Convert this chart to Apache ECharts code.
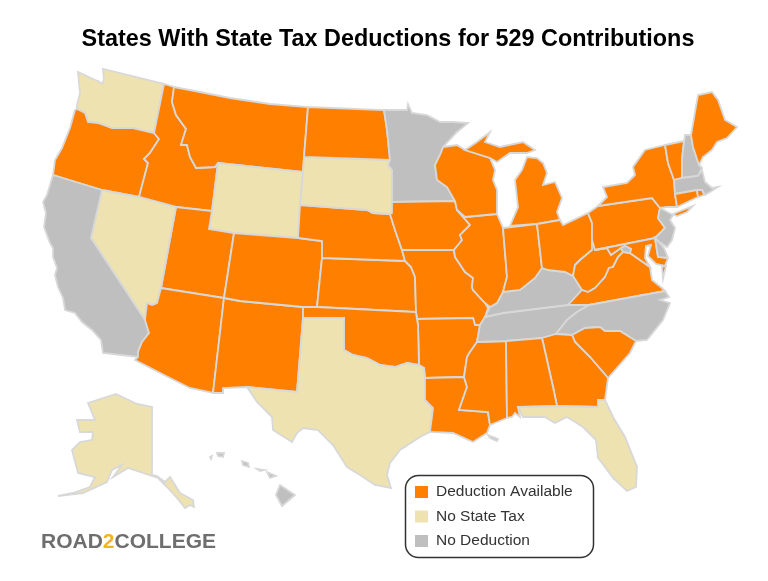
<!DOCTYPE html>
<html>
<head>
<meta charset="utf-8">
<title>529 deductions</title>
<script src="https://cdn.jsdelivr.net/npm/echarts@6/dist/echarts.min.js"></script>
<style>
  html, body { margin: 0; padding: 0; background: #fff; }
  #chart { width: 768px; height: 581px; }
</style>
</head>
<body>
<div id="chart"></div>
<script>
const chartTitle = 'States With State Tax Deductions for 529 Contributions';
const legendLabels = ['Deduction Available', 'No State Tax', 'No Deduction'];
const deductionStates = ['OR', 'ID', 'MT', 'ND', 'UT', 'CO', 'AZ', 'NM', 'NE', 'KS', 'OK', 'IA', 'MO', 'AR', 'LA',
  'WI', 'MI', 'IL', 'IN', 'OH', 'WV', 'VA', 'MD', 'PA', 'NY', 'VT', 'ME', 'CT', 'RI', 'MS', 'AL', 'GA', 'SC'];
const noTaxStates = ['WA', 'NV', 'WY', 'SD', 'TX', 'FL', 'AK'];
const noDeductionStates = ['CA', 'MN', 'KY', 'TN', 'NC', 'NJ', 'DE', 'DC', 'NH', 'MA', 'HI', 'Chandeleur'];

// 底图：没有现成的美国地图可用，轮廓按参考图描出来（x 向右，y 向下）
const stateOutlines = {
  WA: [[[78,72],[80,93],[77,105],[77,109],[85,113],[88,122],[98,123],[112,128],[133,128],[154,133],[164,84],[103,69],[104,80],[102,84],[98,81],[93,79]]],
  OR: [[[77,109],[85,113],[88,122],[98,123],[112,128],[133,128],[154,133],[159,139],[150,153],[144,159],[148,163],[139,197],[102,190],[53,175],[55,160],[62,148],[70,128],[75,110]]],
  ID: [[[164,84],[174,87],[172,102],[176,115],[186,129],[181,145],[187,145],[190,157],[196,168],[215,167],[218,163],[212,211],[176,207],[139,197],[148,163],[144,159],[150,153],[159,139],[154,133]]],
  MT: [[[174,87],[200,92],[230,98],[270,104],[308,107],[304,157],[303,172],[218,163],[215,167],[196,168],[190,157],[187,145],[181,145],[186,129],[176,115],[172,102]]],
  WY: [[[218,163],[303,172],[300,205],[298,238],[234,233],[209,229],[212,211]]],
  UT: [[[176,207],[212,211],[209,229],[234,233],[224,298],[161,288]]],
  NV: [[[102,190],[139,197],[176,207],[161,288],[157,303],[152,305],[147,303],[145,320],[91,238]]],
  CA: [[[53,175],[102,190],[91,238],[145,320],[149,333],[142,342],[138,352],[138,357],[103,353],[101,340],[92,330],[82,322],[75,313],[65,310],[63,298],[58,287],[55,275],[57,268],[53,257],[53,248],[50,243],[44,227],[46,213],[43,202],[47,195]]],
  AZ: [[[145,320],[147,303],[152,305],[157,303],[161,288],[224,298],[213,393],[190,388],[170,378],[135,360],[138,357],[138,352],[142,342],[149,333]]],
  NM: [[[224,298],[240,301],[303,307],[303,318],[297,392],[247,387],[223,388],[223,393],[213,393]]],
  CO: [[[234,233],[298,238],[322,241],[322,258],[317,307],[303,307],[240,301],[224,298]]],
  KS: [[[322,258],[405,261],[411,267],[415,277],[416,312],[317,307]]],
  NE: [[[300,205],[367,210],[373,213],[390,214],[395,230],[402,250],[405,261],[322,258],[322,241],[298,238]]],
  SD: [[[304,157],[390,160],[388,165],[392,170],[392,202],[392,213],[390,214],[373,213],[367,210],[300,205],[303,172]]],
  ND: [[[308,107],[384,110],[387,130],[390,160],[304,157]]],
  MN: [[[384,110],[407,110],[408,104],[412,113],[427,115],[440,122],[453,122],[468,123],[457,132],[443,147],[442,150],[440,155],[435,165],[437,180],[447,187],[455,201],[392,202],[392,170],[388,165],[390,160],[387,130]]],
  IA: [[[392,202],[455,201],[457,210],[470,225],[460,235],[462,240],[454,250],[402,250],[395,230],[390,214],[392,213]]],
  MO: [[[402,250],[454,250],[455,257],[465,272],[473,278],[472,287],[473,290],[485,303],[488,308],[485,317],[480,325],[475,325],[473,318],[417,319],[416,312],[415,277],[411,267],[405,261]]],
  AR: [[[417,319],[473,318],[475,325],[480,325],[477,342],[470,352],[467,357],[464,377],[425,378],[424,368],[419,365],[418,325]]],
  OK: [[[303,307],[317,307],[416,312],[417,319],[418,325],[419,365],[407,363],[395,367],[380,365],[367,358],[353,355],[344,350],[344,318],[303,318]]],
  TX: [[[303,318],[344,318],[344,350],[353,355],[367,358],[380,365],[395,367],[407,363],[419,365],[424,368],[425,378],[425,400],[433,408],[430,432],[420,437],[400,450],[390,463],[387,475],[391,488],[375,485],[360,475],[347,467],[333,445],[318,430],[303,428],[297,433],[292,442],[273,430],[272,417],[257,402],[247,387],[297,392]]],
  LA: [[[425,378],[464,377],[467,387],[459,410],[488,412],[490,425],[487,433],[473,442],[453,433],[430,432],[433,408],[425,400]]],
  Chandeleur: [[[488,435],[498,439],[497,441],[490,438]]],
  MS: [[[477,342],[506,341],[507,418],[490,425],[488,412],[459,410],[467,387],[464,377],[467,357],[470,352]]],
  TN: [[[485,317],[503,313],[568,305],[589,305],[577,312],[567,320],[556,334],[542,338],[506,341],[477,342],[480,325]]],
  KY: [[[485,317],[490,307],[497,303],[503,292],[520,290],[535,278],[542,268],[548,270],[565,272],[573,276],[582,290],[568,305],[503,313]]],
  IL: [[[465,217],[497,214],[503,228],[507,277],[503,292],[497,303],[490,307],[485,303],[473,290],[472,287],[473,278],[465,272],[455,257],[454,250],[462,240],[460,235],[470,225],[457,210]]],
  WI: [[[443,147],[457,145],[465,150],[490,158],[495,170],[493,180],[497,190],[497,214],[465,217],[457,210],[455,201],[447,187],[437,180],[435,165],[440,155],[442,150]]],
  MI: [[[465,150],[477,142],[490,132],[485,142],[500,147],[523,142],[535,150],[527,153],[510,153],[497,162],[490,158]],
       [[510,226],[518,207],[515,180],[522,170],[527,157],[537,158],[543,163],[547,173],[543,185],[555,182],[562,198],[557,212],[560,220],[537,224]]],
  IN: [[[503,228],[537,224],[542,268],[535,278],[520,290],[503,292],[507,277]]],
  OH: [[[537,224],[560,220],[563,225],[588,213],[592,223],[592,240],[592,250],[580,260],[575,265],[573,276],[565,272],[548,270],[542,268]]],
  WV: [[[592,240],[595,250],[607,248],[611,255],[621,248],[623,252],[618,257],[613,267],[609,268],[605,277],[595,288],[588,292],[582,290],[573,276],[575,265],[580,260],[592,250]]],
  VA: [[[568,305],[582,290],[588,292],[595,288],[605,277],[609,268],[613,267],[618,257],[623,252],[630,253],[640,260],[650,267],[652,280],[662,288],[665,291],[589,305]],
       [[662,267],[666,266],[663,279]]],
  PA: [[[588,213],[598,206],[652,198],[660,208],[658,218],[665,228],[655,238],[595,250],[592,240],[592,223]]],
  MD: [[[595,250],[655,238],[658,257],[668,258],[665,266],[656,264],[648,256],[651,245],[646,246],[645,258],[650,267],[640,260],[630,253],[631,249],[625,246],[621,248],[611,255],[607,248]]],
  DC: [[[625,246],[631,249],[630,253],[623,252],[621,248]]],
  DE: [[[655,238],[658,241],[664,248],[668,258],[658,257]]],
  NJ: [[[660,208],[673,215],[670,220],[675,228],[672,240],[667,247],[658,241],[655,238],[665,228],[658,218]]],
  NY: [[[598,206],[607,197],[603,187],[627,183],[635,175],[633,167],[645,150],[665,145],[668,163],[674,180],[675,194],[677,207],[667,207],[660,208],[652,198]],
       [[673,214],[693,206],[687,212],[677,216]]],
  VT: [[[665,145],[684,141],[683,150],[682,160],[682,178],[674,180],[668,163]]],
  NH: [[[685,135],[691,135],[693,147],[699,165],[702,168],[698,176],[682,178],[682,160],[683,150]]],
  ME: [[[691,135],[695,112],[698,95],[712,92],[718,100],[725,120],[737,127],[727,138],[717,142],[712,150],[703,157],[699,165],[693,147]]],
  MA: [[[674,180],[682,178],[698,176],[702,170],[705,182],[712,188],[718,187],[710,192],[705,195],[702,190],[697,190],[675,194]]],
  CT: [[[675,194],[697,190],[698,197],[677,207]]],
  RI: [[[697,190],[702,190],[704,195],[698,197]]],
  NC: [[[589,305],[665,291],[669,297],[660,300],[670,303],[663,320],[647,340],[636,341],[620,331],[605,331],[600,327],[585,328],[572,335],[556,334],[567,320],[577,312]]],
  SC: [[[572,335],[585,328],[600,327],[605,331],[620,331],[636,341],[630,353],[608,378],[590,357],[575,342]]],
  GA: [[[542,338],[556,334],[572,335],[575,342],[590,357],[608,378],[605,400],[598,400],[598,407],[557,406],[553,387]]],
  AL: [[[506,341],[542,338],[553,387],[557,406],[518,407],[520,417],[515,413],[512,417],[507,418]]],
  FL: [[[518,407],[557,406],[598,407],[598,400],[605,400],[613,417],[625,437],[637,467],[636,487],[627,491],[613,478],[605,467],[598,458],[596,440],[583,427],[567,417],[555,423],[545,417],[523,417]]],
  AK: [[[116,394],[137,404],[152,407],[152,475],[157,476],[165,482],[170,477],[180,493],[193,500],[194,507],[190,505],[185,508],[177,498],[167,487],[158,478],[152,476],[128,468],[113,477],[122,465],[112,470],[107,482],[83,493],[58,496],[73,493],[90,487],[95,477],[78,473],[72,450],[80,442],[92,440],[93,432],[80,432],[77,420],[95,420],[88,403]]],
  HI: [[[280,485],[295,495],[282,506],[276,495]],
       [[267,472],[276,476],[270,478]],
       [[257,469],[264,470],[260,471]],
       [[242,461],[248,463],[249,467],[243,465]],
       [[217,453],[224,453],[223,457],[218,456]],
       [[210,457],[212,456],[211,459]]]
};

// y 取负，geo 坐标是向上的
const usGeoJson = {
  type: 'FeatureCollection',
  features: Object.keys(stateOutlines).map(code => ({
    type: 'Feature',
    properties: { name: code },
    geometry: {
      type: 'MultiPolygon',
      coordinates: stateOutlines[code].map(ring => [ring.map(p => [p[0], -p[1]])])
    }
  }))
};
echarts.registerMap('usStates', usGeoJson);

const groupStates = [deductionStates, noTaxStates, noDeductionStates];
const groupColors = ['#ff8000', '#eee2b0', '#bfbfbf'];

const mapData = [];
groupStates.forEach((list, idx) => {
  list.forEach(code => mapData.push({ name: code, value: idx }));
});

const chart = echarts.init(document.getElementById('chart'));
chart.setOption({
  animation: false,
  backgroundColor: '#fff',
  title: [
    {
      text: chartTitle,
      left: 383,
      top: 23,
      textAlign: 'center',
      textStyle: { fontFamily: 'Liberation Sans', fontWeight: 'bold', fontSize: 23.4, color: '#000' }
    },
    {
      text: '{a|ROAD}{b|2}{a|COLLEGE}',
      left: 41,
      top: 532,
      padding: 0,
      textStyle: {
        rich: {
          a: { fontFamily: 'Liberation Sans', fontWeight: 'bold', fontSize: 21, color: '#6e6e6e' },
          b: { fontFamily: 'Liberation Sans', fontWeight: 'bold', fontSize: 21, color: '#f6b321' }
        }
      }
    }
  ],
  // visualMap 的框不吃 borderRadius，圆角框单独画
  graphic: [
    {
      type: 'rect',
      z: 1,
      silent: true,
      shape: { x: 405.5, y: 475.5, width: 188, height: 82, r: 13 },
      style: { fill: '#fff', stroke: '#333', lineWidth: 1.5 }
    }
  ],
  visualMap: {
    type: 'piecewise',
    seriesIndex: 0,
    left: 415,
    top: 484,
    orient: 'vertical',
    inverse: true,
    align: 'left',
    itemWidth: 13,
    itemHeight: 12,
    itemGap: 8.5,
    itemSymbol: 'rect',
    textGap: 8,
    padding: 0,
    z: 10,
    selectedMode: false,
    hoverLink: false,
    textStyle: { fontFamily: 'Liberation Sans', fontSize: 15.5, color: '#333' },
    pieces: legendLabels.map((label, idx) => ({ value: idx, label, color: groupColors[idx] }))
  },
  series: [
    {
      type: 'map',
      map: 'usStates',
      aspectScale: 1,
      boundingCoords: [[0, 0], [768, -581]],
      left: 0,
      top: 0,
      width: 768,
      height: 581,
      roam: false,
      silent: true,
      label: { show: false },
      emphasis: { disabled: true },
      itemStyle: { borderColor: '#d8d8d8', borderWidth: 1.8 },
      data: mapData
    }
  ]
});
</script>
</body>
</html>
